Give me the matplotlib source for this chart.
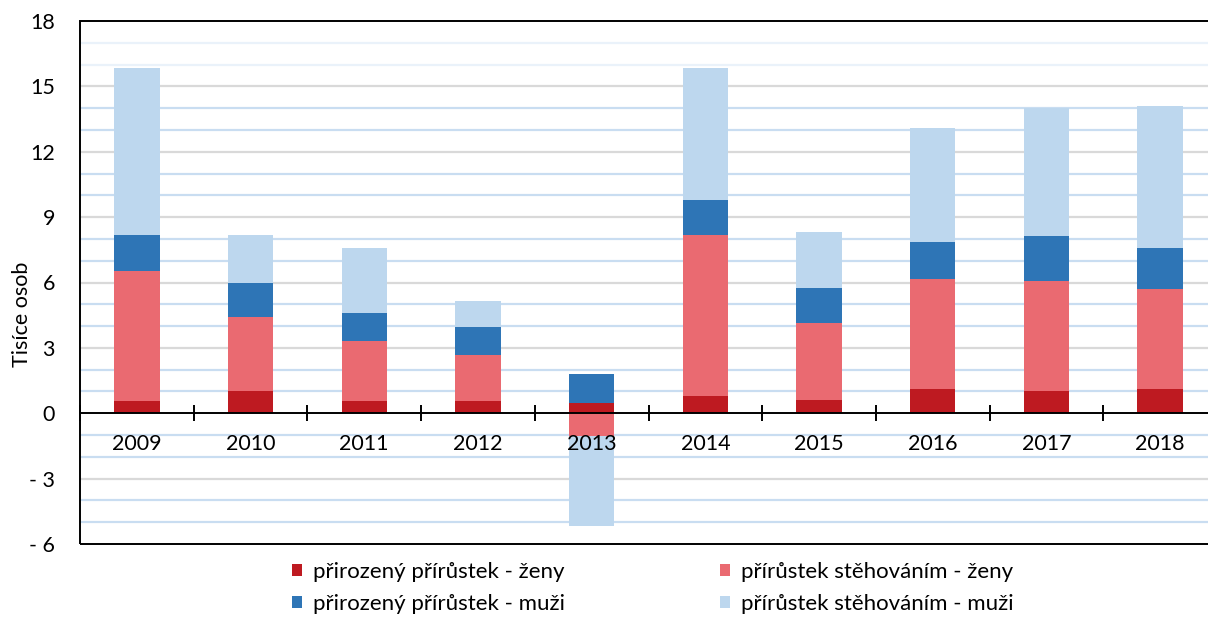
import numpy as np
import matplotlib
matplotlib.use("Agg")
import matplotlib.pyplot as plt
from matplotlib.patches import Patch, Rectangle
from matplotlib.ticker import FixedLocator, FuncFormatter

plt.rcParams['font.family'] = ['Lato', 'DejaVu Sans']

years = ['2009', '2010', '2011', '2012', '2013', '2014', '2015', '2016', '2017', '2018']
prirozeny_zeny = [0.55, 1.01, 0.55, 0.55, 0.48, 0.81, 0.63, 1.09, 1.00, 1.09]
stehovanim_zeny = [5.98, 3.41, 2.77, 2.13, -1.06, 7.36, 3.52, 5.08, 5.07, 4.62]
prirozeny_muzi = [1.64, 1.54, 1.27, 1.27, 1.30, 1.63, 1.62, 1.71, 2.08, 1.89]
stehovanim_muzi = [7.67, 2.21, 3.01, 1.19, -4.12, 6.04, 2.56, 5.23, 5.87, 6.51]

series_labels = ['přirozený přírůstek - ženy', 'přírůstek stěhováním - ženy',
                 'přirozený přírůstek - muži', 'přírůstek stěhováním - muži']
colors = ['#be1a21', '#ea6a71', '#2e75b6', '#bdd7ee']
ylabel = 'Tisíce osob'

fig = plt.figure(figsize=(12.08, 6.19), dpi=100)
ax = fig.add_axes([80 / 1208, 1 - 544 / 619, 1137 / 1208, 523 / 619])
ax.set_axisbelow(False)

ax.set_xlim(-0.5, len(years) - 0.5)
ax.set_ylim(-6, 18)

# gridlines
for v in range(-6, 19):
    if v in (-6, 0, 18):
        continue
    if v % 3 == 0:
        c = '#d9d9d9'
    elif v > 15:
        c = '#eaf2fa'
    else:
        c = '#c9ddf1'
    ax.axhline(v, color=c, lw=1.6, zorder=0)

x = np.arange(len(years))
pos_bottom = np.zeros(len(years))
neg_bottom = np.zeros(len(years))
for vals, col, lab in zip([prirozeny_zeny, stehovanim_zeny, prirozeny_muzi, stehovanim_muzi],
                          colors, series_labels):
    v = np.array(vals)
    bottom = np.where(v >= 0, pos_bottom, neg_bottom)
    ax.bar(x, v, width=0.4, bottom=bottom, color=col, label=lab, zorder=1)
    pos_bottom = pos_bottom + np.where(v >= 0, v, 0)
    neg_bottom = neg_bottom + np.where(v < 0, v, 0)

# spines: bottom axis at zero, frame as rectangle
for s in ['left', 'right', 'top']:
    ax.spines[s].set_visible(False)
ax.spines['bottom'].set_position(('data', 0))
ax.spines['bottom'].set_linewidth(1.4)
ax.spines['bottom'].set_zorder(5)
ax.add_patch(Rectangle((0, 0), 1, 1, transform=ax.transAxes, fill=False,
                       edgecolor='black', lw=1.4, zorder=6, clip_on=False))

ax.xaxis.set_major_locator(FixedLocator(np.arange(len(years) + 1) - 0.5))
ax.xaxis.set_major_formatter(FuncFormatter(lambda v, p: ''))
ax.xaxis.set_minor_locator(FixedLocator(x))
ax.xaxis.set_minor_formatter(FuncFormatter(lambda v, p: years[int(round(v))]))
ax.tick_params(axis='x', which='major', direction='inout', length=12, width=1.4, color='black')
ax.tick_params(axis='x', which='minor', length=0, pad=15, labelsize=15.5)

ax.set_yticks(np.arange(-6, 19, 3))
ax.yaxis.set_major_formatter(FuncFormatter(lambda v, p: ('- %d' % abs(v)) if v < 0 else '%d' % v))
ax.tick_params(axis='y', length=0, pad=18, labelsize=15.5)

ax.set_ylabel(ylabel, fontsize=15.5)
ax.yaxis.set_label_coords(-0.042, 0.44)

order = [0, 2, 1, 3]
handles = [Patch(facecolor=colors[i], edgecolor='none') for i in order]
labels = [series_labels[i] for i in order]
fig.legend(handles, labels, ncol=2, loc='center', bbox_to_anchor=(653 / 1208, 1 - 588 / 619),
           frameon=False, fontsize=16, handlelength=0.42, handleheight=0.42,
           handletextpad=0.5, columnspacing=7.0, labelspacing=0.55)

fig.savefig('out.png', dpi=100)
